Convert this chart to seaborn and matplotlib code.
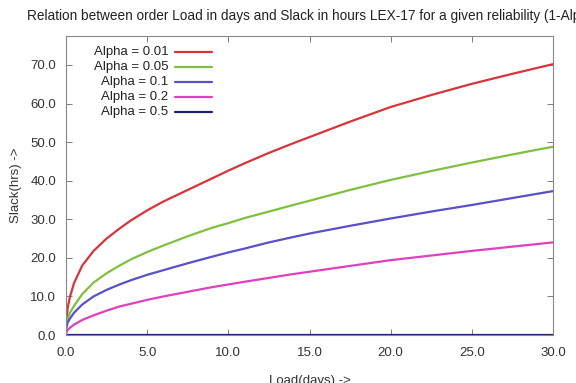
import numpy as np
import pandas as pd
import matplotlib
matplotlib.use("Agg")
import matplotlib.pyplot as plt
import seaborn as sns
from matplotlib.lines import Line2D

# values
load_days = [0.02, 0.1, 0.25, 0.5, 1.0, 1.7, 2.5, 3.3, 4.0, 5.0, 6.0, 7.5, 9.0,
             10.0, 11.0, 12.5, 14.0, 15.0, 17.5, 20.0, 22.5, 25.0, 27.5, 30.0]
slack_a001 = [3.0, 7.0, 10.0, 13.5, 18.0, 21.8, 25.0, 27.6, 29.7, 32.3, 34.6, 37.6,
              40.6, 42.6, 44.5, 47.2, 49.7, 51.3, 55.3, 59.1, 62.2, 65.1, 67.7, 70.2]
slack_a005 = [2.2, 4.2, 5.8, 7.6, 10.6, 13.6, 16.0, 18.0, 19.6, 21.5, 23.2, 25.6,
              27.8, 29.0, 30.3, 32.0, 33.7, 34.8, 37.6, 40.2, 42.5, 44.7, 46.8, 48.8]
slack_a01 = [1.8, 3.2, 4.3, 5.8, 7.9, 10.0, 11.7, 13.1, 14.2, 15.6, 16.8, 18.6,
             20.3, 21.4, 22.4, 24.0, 25.4, 26.3, 28.3, 30.2, 32.0, 33.7, 35.5, 37.3]
slack_a02 = [0.6, 1.3, 1.9, 2.7, 3.9, 5.1, 6.3, 7.4, 8.1, 9.1, 10.0, 11.2,
             12.4, 13.1, 13.8, 14.8, 15.8, 16.4, 17.9, 19.4, 20.6, 21.8, 22.9, 24.0]
slack_a05 = [0.0] * len(load_days)

labels = ["Alpha = 0.01", "Alpha = 0.05", "Alpha = 0.1", "Alpha = 0.2", "Alpha = 0.5"]
colors = ["#d8343c", "#80c040", "#5a50c8", "#e040c0", "#20206a"]
series = [slack_a001, slack_a005, slack_a01, slack_a02, slack_a05]

rows = []
for lab, vals in zip(labels, series):
    for x, y in zip(load_days, vals):
        rows.append({"load": x, "slack": y, "alpha": lab})
df = pd.DataFrame(rows)

sns.set_theme(style="white")
plt.rcParams["font.family"] = ["Liberation Sans", "DejaVu Sans"]

fig = plt.figure(figsize=(5.76, 3.83), dpi=100)
ax = fig.add_axes([66 / 576, 1 - 335 / 383, (553 - 66) / 576, (335 - 36) / 383])

sns.lineplot(data=df, x="load", y="slack", hue="alpha", hue_order=labels,
             palette=colors, linewidth=1.6, legend=False, ax=ax)

ax.set_xlim(0, 30)
ax.set_ylim(0, 77.5)
ax.set_xticks(np.arange(0, 31, 5))
ax.set_yticks(np.arange(0, 71, 10))
ax.set_xticklabels([f"{v:.1f}" for v in np.arange(0, 31, 5)])
ax.set_yticklabels([f"{v:.1f}" for v in np.arange(0, 71, 10)])
ax.tick_params(direction="in", length=4, width=0.6, color="#666666",
               labelsize=9.5, labelcolor="#333333", top=True, right=True,
               bottom=True, left=True)
ax.tick_params(axis="x", pad=9)
ax.tick_params(axis="y", pad=7)
for s in ax.spines.values():
    s.set_color("#888888")
    s.set_linewidth(0.8)

ax.set_xlabel("Load(days) ->", fontsize=9.5, color="#333333", labelpad=11)
ax.set_ylabel("Slack(hrs) ->", fontsize=9.5, color="#333333", labelpad=6)

# gnuplot-style key: text right-aligned, sample line after it
for i, (lab, c) in enumerate(zip(labels, colors)):
    yk = 0.946 - i * 0.0502
    ax.text(0.210, yk, lab, transform=ax.transAxes, ha="right", va="center",
            fontsize=9.5, color="#222222")
    ax.add_line(Line2D([0.224, 0.300], [yk, yk], transform=ax.transAxes,
                       color=c, linewidth=1.6))

fig.text(27 / 576, 1 - 16 / 383, "Relation between order Load in days and Slack in hours "
         "LEX-17 for a given reliability (1-Alpha)", ha="left", va="center",
         fontsize=9.8, color="#222222")

fig.savefig("out.png", dpi=100)
